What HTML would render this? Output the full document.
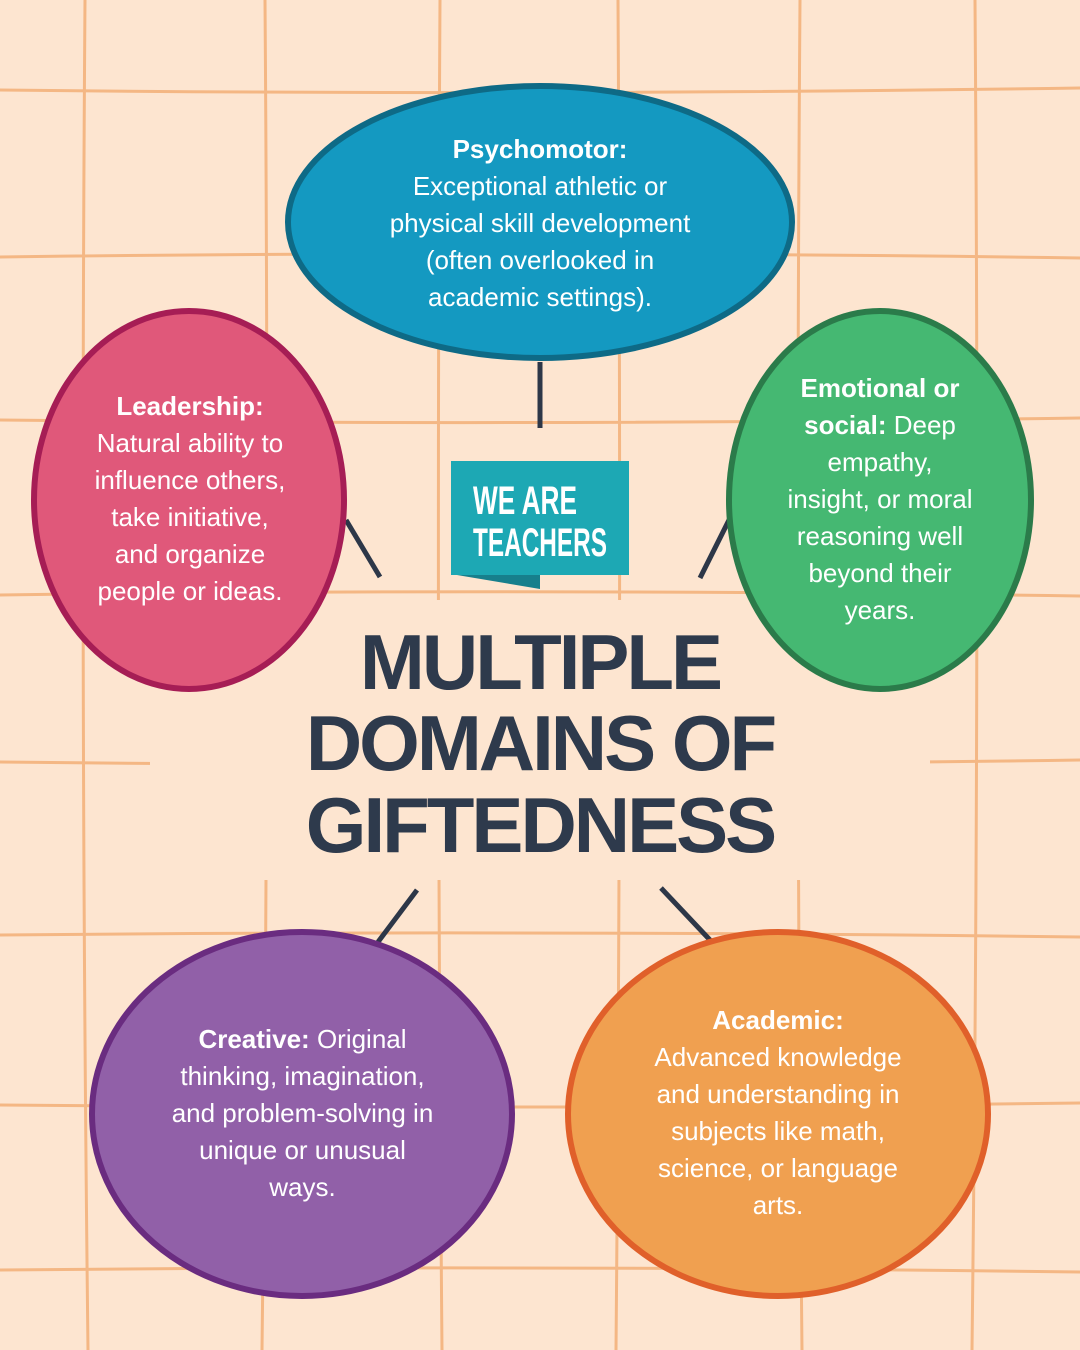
<!DOCTYPE html>
<html><head><meta charset="utf-8"><style>
html,body{margin:0;padding:0}
body{width:1080px;height:1350px;overflow:hidden;background:#fde5d0;position:relative;font-family:"Liberation Sans",sans-serif}
.t{position:absolute;color:#fff;text-align:center;font-size:26px;line-height:37px}
.t b{font-weight:bold}
.title{position:absolute;left:0;width:1080px;text-align:center;color:#2e3a4c;font-weight:bold;font-size:78px;letter-spacing:-3px;line-height:80px}
</style></head><body>
<svg width="1080" height="1350" style="position:absolute;left:0;top:0">
<g stroke="#f4b784" stroke-width="3" fill="none">
<path d="M85 0 Q80 675 88 1350"/><path d="M265 0 Q270 675 262 1350"/><path d="M440 0 Q436 675 442 1350"/><path d="M618 0 Q622 675 616 1350"/><path d="M800 0 Q795 675 802 1350"/><path d="M975 0 Q980 675 972 1350"/>
<path d="M0 90 Q540 96 1080 88"/><path d="M0 257 Q540 250 1080 258"/><path d="M0 420 Q540 426 1080 418"/><path d="M0 595 Q540 588 1080 596"/><path d="M0 762 Q540 768 1080 760"/><path d="M0 935 Q540 930 1080 937"/><path d="M0 1105 Q540 1110 1080 1103"/><path d="M0 1270 Q540 1265 1080 1272"/>
</g>
<rect x="150" y="600" width="780" height="280" fill="#fde5d0"/>
<g stroke="#2d3748" stroke-width="5" stroke-linecap="butt">
<line x1="540" y1="362" x2="540" y2="428"/><line x1="346" y1="520" x2="380" y2="577"/><line x1="730" y1="518" x2="700" y2="578"/><line x1="417" y1="890" x2="378" y2="942"/><line x1="661" y1="888" x2="710" y2="940"/>
</g>
<ellipse cx="540" cy="222" rx="252" ry="136" fill="#1499c1" stroke="#0e6a86" stroke-width="6"/>
<ellipse cx="189" cy="500" rx="155" ry="189" fill="#e0587a" stroke="#a61d55" stroke-width="6"/>
<ellipse cx="880" cy="500" rx="151" ry="189" fill="#45b872" stroke="#2b7b4a" stroke-width="6"/>
<ellipse cx="302" cy="1114" rx="210" ry="182" fill="#9160a8" stroke="#6a2c80" stroke-width="6"/>
<ellipse cx="778" cy="1114" rx="210" ry="182" fill="#f0a050" stroke="#e0602a" stroke-width="6"/>
<polygon points="451,574 540,574 540,589" fill="#177f8c"/>
<rect x="451" y="461" width="178" height="114" fill="#1da8b4"/>
<text x="473" y="514" fill="#fff" font-family="Liberation Sans Narrow, Liberation Sans, sans-serif" font-weight="bold" font-size="40" textLength="104" lengthAdjust="spacingAndGlyphs">WE ARE</text>
<text x="473" y="556" fill="#fff" font-family="Liberation Sans Narrow, Liberation Sans, sans-serif" font-weight="bold" font-size="40" textLength="134" lengthAdjust="spacingAndGlyphs">TEACHERS</text>
</svg>
<div class="t" style="left:320px;top:131px;width:440px"><b>Psychomotor:</b><br>Exceptional athletic or<br>physical skill development<br>(often overlooked in<br>academic settings).</div>
<div class="t" style="left:45px;top:388px;width:290px"><b>Leadership:</b><br>Natural ability to<br>influence others,<br>take initiative,<br>and organize<br>people or ideas.</div>
<div class="t" style="left:745px;top:370px;width:270px"><b>Emotional or<br>social:</b> Deep<br>empathy,<br>insight, or moral<br>reasoning well<br>beyond their<br>years.</div>
<div class="t" style="left:120px;top:1021px;width:365px"><b>Creative:</b> Original<br>thinking, imagination,<br>and problem-solving in<br>unique or unusual<br>ways.</div>
<div class="t" style="left:600px;top:1002px;width:356px"><b>Academic:</b><br>Advanced knowledge<br>and understanding in<br>subjects like math,<br>science, or language<br>arts.</div>
<div class="title" style="top:622px">MULTIPLE</div>
<div class="title" style="top:703px">DOMAINS OF</div>
<div class="title" style="top:785px">GIFTEDNESS</div>
</body></html>
